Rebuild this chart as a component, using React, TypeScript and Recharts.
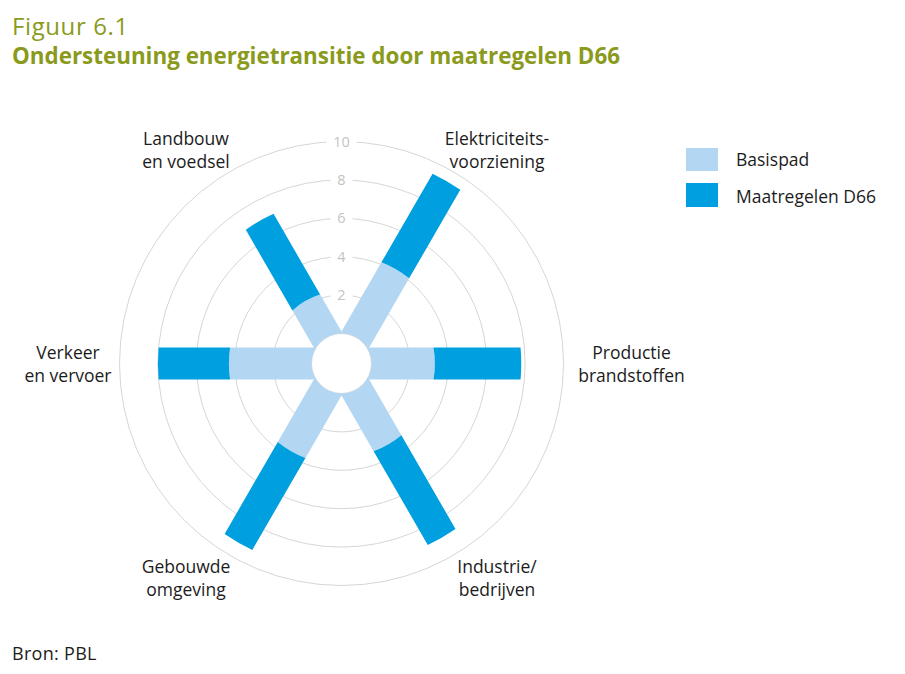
import React from "react";
import {
  RadialBarChart,
  RadialBar,
  PolarGrid,
  PolarAngleAxis,
  PolarRadiusAxis,
  Legend,
} from "recharts";

// categories clockwise, starting top-right
const categories = [
  "Elektriciteits-\nvoorziening",
  "Productie\nbrandstoffen",
  "Industrie/\nbedrijven",
  "Gebouwde\nomgeving",
  "Verkeer\nen vervoer",
  "Landbouw\nen voedsel",
];
const basispad = [4.1, 3.3, 3.3, 3.7, 4.3, 2.2];
const maatregelen = [9.4, 7.8, 8.9, 9.2, 8.0, 7.0];
const radiusTicks = [0, 2, 4, 6, 8, 10];

const LIGHT = "#b3d7f3";
const DARK = "#009fe0";
const OLIVE = "#8a9a1c";
const INK = "#1c1c1c";
const FONT = "'Open Sans', sans-serif";

const CX = 341.5;
const CY = 363.5;

const data = categories.map((name, i) => ({
  name,
  basis: basispad[i],
  extra: Math.round((maatregelen[i] - basispad[i]) * 10) / 10,
}));

function arcTo(r: number, p1: number[], p2: number[], cx: number, cy: number) {
  const a1 = Math.atan2(p1[1] - cy, p1[0] - cx);
  const a2 = Math.atan2(p2[1] - cy, p2[0] - cx);
  let d = a2 - a1;
  while (d <= -Math.PI) d += 2 * Math.PI;
  while (d > Math.PI) d -= 2 * Math.PI;
  return `A ${r} ${r} 0 0 ${d > 0 ? 1 : 0} ${p2[0]} ${p2[1]}`;
}

// straight bar of constant width, ends cut by circles
const SpokeBar = (props: any) => {
  const { cx, cy, innerRadius, outerRadius, startAngle, endAngle, fill } = props;
  if (outerRadius == null || outerRadius <= innerRadius) return null;
  const h = 16;
  const mid = (((startAngle + endAngle) / 2) * Math.PI) / 180;
  const ux = Math.cos(mid);
  const uy = -Math.sin(mid);
  const px = -uy;
  const py = ux;
  const a = Math.sqrt(Math.max(innerRadius * innerRadius - h * h, 0));
  const b = Math.sqrt(Math.max(outerRadius * outerRadius - h * h, 0));
  const pt = (d: number, s: number) => [cx + ux * d + px * s * h, cy + uy * d + py * s * h];
  const i1 = pt(a, 1);
  const o1 = pt(b, 1);
  const o2 = pt(b, -1);
  const i2 = pt(a, -1);
  const d =
    `M ${i1[0]} ${i1[1]} L ${o1[0]} ${o1[1]} ` +
    arcTo(outerRadius, o1, o2, cx, cy) +
    ` L ${i2[0]} ${i2[1]} ` +
    arcTo(innerRadius, i2, i1, cx, cy) +
    " Z";
  return <path d={d} fill={fill} />;
};

const RadiusTick = ({ x, y, payload }: any) => {
  if (!payload || payload.value === 0) return null;
  const w = String(payload.value).length * 8 + 14;
  return (
    <g>
      <rect x={x - w / 2} y={y - 8} width={w} height={16} fill="#fff" />
      <text x={x} y={y + 5} textAnchor="middle" fontSize={14.5} fill="#c4c4c4" fontFamily={FONT}>
        {payload.value}
      </text>
    </g>
  );
};

const AngleTick = ({ payload }: any) => {
  if (!payload) return null;
  const idx = categories.indexOf(payload.value);
  const ang = ((60 - 60 * idx) * Math.PI) / 180;
  const c = Math.cos(ang);
  const s = Math.sin(ang);
  let dx = Math.sign(c) * 155.5;
  if (c > 0.9) dx = 290;
  if (c < -0.9) dx = -273.5;
  const dy = Math.abs(s) < 0.1 ? 0 : -Math.sign(s) * 214;
  const lines = String(payload.value).split("\n");
  const x = CX + dx;
  const y = CY + dy;
  return (
    <text textAnchor="middle" fontSize={17.5} fill={INK} fontFamily={FONT}>
      {lines.map((l, i) => (
        <tspan key={i} x={x} y={y - 5 + i * 23.5}>
          {l}
        </tspan>
      ))}
    </text>
  );
};

const LegendBox = () => (
  <div style={{ position: "relative", width: 210, height: 70, fontFamily: FONT, fontSize: 17.5, color: INK }}>
    <div style={{ position: "absolute", left: 0, top: 0, width: 32, height: 23, background: LIGHT }} />
    <div style={{ position: "absolute", left: 50, top: -1, lineHeight: "24px", whiteSpace: "nowrap" }}>Basispad</div>
    <div style={{ position: "absolute", left: 0, top: 35, width: 32, height: 24, background: DARK }} />
    <div style={{ position: "absolute", left: 50, top: 36, lineHeight: "24px", whiteSpace: "nowrap" }}>
      Maatregelen D66
    </div>
  </div>
);

export default function App() {
  return (
    <div style={{ position: "absolute", left: 0, top: 0, width: 905, height: 674, background: "#fff" }}>
      <svg width={905} height={80} style={{ position: "absolute", left: 0, top: 0 }}>
        <text x={12} y={35} fontSize={24} letterSpacing={0.6} fill={OLIVE} fontFamily={FONT}>
          Figuur 6.1
        </text>
        <text x={12} y={64} fontSize={22.4} fontWeight={700} fill={OLIVE} fontFamily={FONT}>
          Ondersteuning energietransitie door maatregelen D66
        </text>
      </svg>
      <div style={{ position: "absolute", left: 0, top: 0 }}>
        <RadialBarChart
          width={905}
          height={674}
          data={data}
          layout="centric"
          cx={CX}
          cy={CY}
          innerRadius={30}
          outerRadius={222}
          startAngle={30}
          endAngle={-330}
          margin={{ top: 0, right: 0, bottom: 0, left: 0 }}
        >
          <PolarGrid gridType="circle" radialLines={false} stroke="#d6d6d6" strokeWidth={1} />
          <PolarAngleAxis
            type="category"
            dataKey="name"
            axisLine={false}
            tickLine={false}
            tick={<AngleTick />}
          />
          <PolarRadiusAxis
            type="number"
            domain={[0, 10]}
            ticks={radiusTicks}
            angle={90}
            axisLine={false}
            tickLine={false}
            tick={<RadiusTick />}
          />
          <RadialBar
            dataKey="basis"
            name="Basispad"
            stackId="a"
            fill={LIGHT}
            shape={<SpokeBar />}
            isAnimationActive={false}
          />
          <RadialBar
            dataKey="extra"
            name="Maatregelen D66"
            stackId="a"
            fill={DARK}
            shape={<SpokeBar />}
            isAnimationActive={false}
          />
          <Legend
            content={<LegendBox />}
            wrapperStyle={{ position: "absolute", left: 686, top: 148, width: 210, height: 70, overflow: "visible" }}
          />
        </RadialBarChart>
      </div>
      <svg width={200} height={30} style={{ position: "absolute", left: 0, top: 640 }}>
        <text x={12} y={19.5} fontSize={18} letterSpacing={0.3} fill={INK} fontFamily={FONT}>
          Bron: PBL
        </text>
      </svg>
    </div>
  );
}
